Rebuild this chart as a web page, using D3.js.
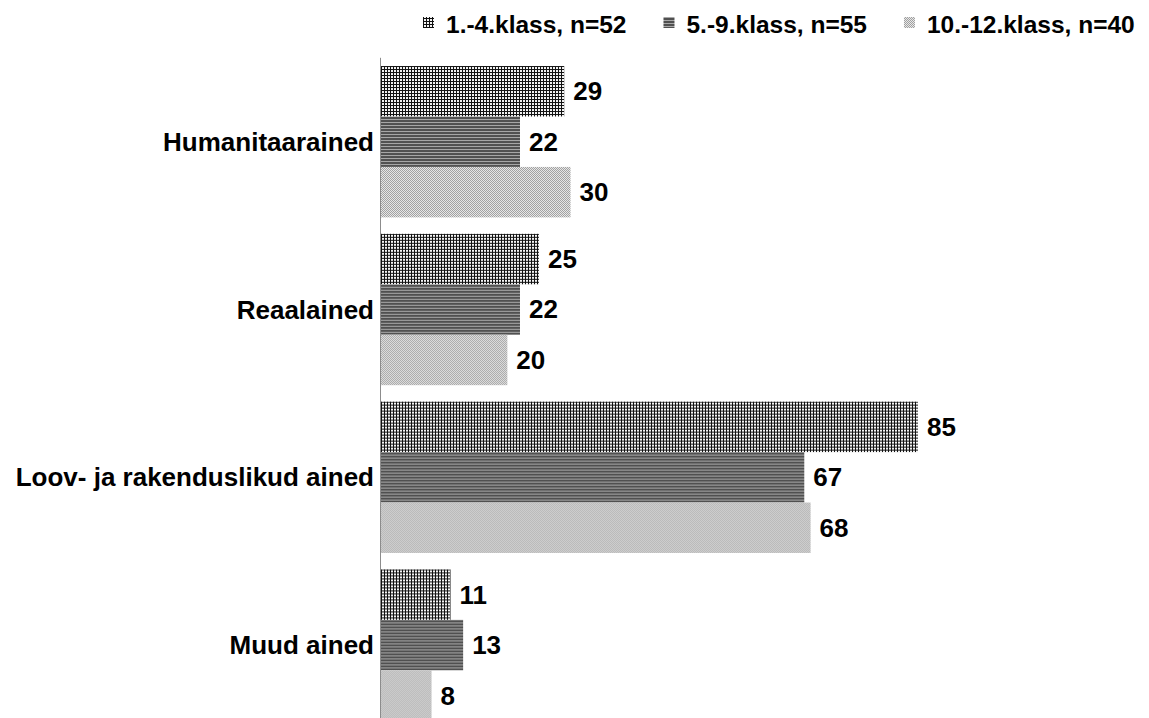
<!DOCTYPE html>
<html>
<head>
<meta charset="utf-8">
<script src="https://cdn.jsdelivr.net/npm/d3@7"></script>
<style>
  html, body { margin: 0; padding: 0; background: #fff; }
  svg { display: block; }
  text { font-family: "Liberation Sans", Arial, sans-serif; font-weight: bold; fill: #000; }
</style>
</head>
<body>
<svg id="chart" width="1149" height="718"></svg>
<script>
const categories = ["Humanitaarained", "Reaalained", "Loov- ja rakenduslikud ained", "Muud ained"];
const seriesNames = ["1.-4.klass, n=52", "5.-9.klass, n=55", "10.-12.klass, n=40"];
const series1 = [29, 25, 85, 11];
const series2 = [22, 22, 67, 13];
const series3 = [30, 20, 68, 8];
const seriesValues = [series1, series2, series3];

const svg = d3.select("#chart");
const axisX = 381;

// patterns
const defs = svg.append("defs");
// series 1: black grid with white cells
const p1 = defs.append("pattern").attr("id", "pat0").attr("patternUnits", "userSpaceOnUse")
  .attr("width", 3).attr("height", 3);
p1.append("rect").attr("width", 3).attr("height", 3).attr("fill", "#111");
p1.append("rect").attr("x", 1).attr("y", 1).attr("width", 2).attr("height", 2).attr("fill", "#f4f4f4");
// series 2: horizontal stripes
const p2 = defs.append("pattern").attr("id", "pat1").attr("patternUnits", "userSpaceOnUse")
  .attr("width", 3).attr("height", 3);
p2.append("rect").attr("width", 3).attr("height", 3).attr("fill", "#505050");
p2.append("rect").attr("y", 2).attr("width", 3).attr("height", 1).attr("fill", "#a8a8a8");
// series 3: light fine checker
const p3 = defs.append("pattern").attr("id", "pat2").attr("patternUnits", "userSpaceOnUse")
  .attr("width", 2).attr("height", 2);
p3.append("rect").attr("width", 2).attr("height", 2).attr("fill", "#e8e8e8");
p3.append("rect").attr("width", 1).attr("height", 1).attr("fill", "#a0a0a0");
p3.append("rect").attr("x", 1).attr("y", 1).attr("width", 1).attr("height", 1).attr("fill", "#a0a0a0");

const fills = ["url(#pat0)", "url(#pat1)", "url(#pat2)"];

const x = d3.scaleLinear().domain([0, 85]).range([axisX, 918]);
const y0 = d3.scaleBand().domain(categories).range([57.8, 729])
  .paddingInner(0.098).paddingOuter(0.049);
const y1 = d3.scaleBand().domain(d3.range(3)).range([0, y0.bandwidth()]).padding(0);

const groups = svg.append("g").selectAll("g").data(categories).join("g")
  .attr("transform", d => `translate(0,${y0(d)})`);

groups.each(function(cat, ci) {
  const g = d3.select(this);
  seriesValues.forEach((vals, si) => {
    const v = vals[ci];
    g.append("rect")
      .attr("x", x(0))
      .attr("y", y1(si))
      .attr("width", x(v) - x(0))
      .attr("height", y1.bandwidth())
      .attr("fill", fills[si]);
    g.append("text")
      .attr("x", x(v) + 9)
      .attr("y", y1(si) + y1.bandwidth() / 2)
      .attr("dominant-baseline", "central")
      .style("font-size", "26px")
      .text(v);
  });
});

// axis line
svg.append("line")
  .attr("x1", axisX - 0.5).attr("x2", axisX - 0.5)
  .attr("y1", y0.range()[0]).attr("y2", y0.range()[1])
  .attr("stroke", "#8c8c8c").attr("stroke-width", 1);

// category labels
svg.append("g").selectAll("text").data(categories).join("text")
  .attr("x", axisX - 7)
  .attr("y", d => y0(d) + y0.bandwidth() / 2)
  .attr("text-anchor", "end")
  .attr("dominant-baseline", "central")
  .style("font-size", "26px")
  .text(d => d);

// legend
const legend = svg.append("g");
let lx = 423;
seriesNames.forEach((name, i) => {
  legend.append("rect").attr("x", lx).attr("y", 17).attr("width", 11).attr("height", 11)
    .attr("fill", fills[i]);
  const t = legend.append("text").attr("x", lx + 23).attr("y", 24)
    .attr("dominant-baseline", "central")
    .style("font-size", "24.5px").text(name);
  lx = lx + 23 + t.node().getComputedTextLength() + 37;
});
</script>
</body>
</html>
